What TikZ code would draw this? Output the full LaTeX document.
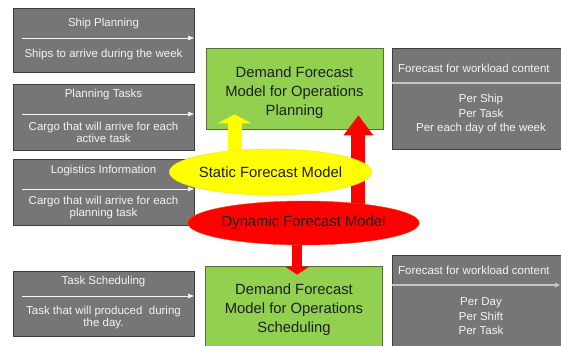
\documentclass[tikz,border=0pt]{standalone}
\usepackage{fontspec}
\setmainfont{Liberation Sans}
\usepackage{tikz}
\usetikzlibrary{arrows.meta,shapes.geometric,calc}
\definecolor{boxgray}{RGB}{118,118,118}
\definecolor{boxedge}{RGB}{62,62,62}
\definecolor{modelgreen}{RGB}{146,208,80}
\definecolor{greenedge}{RGB}{88,110,52}
\definecolor{textwhite}{RGB}{244,244,244}
\definecolor{seplight}{RGB}{196,196,196}
\definecolor{ellyellow}{RGB}{255,255,0}
\definecolor{ellred}{RGB}{255,0,0}
\pgfdeclarelayer{front}
\pgfsetlayers{main,front}

\tikzset{
infobox/.style={draw=boxedge,fill=boxgray,line width=0.8pt,minimum width=181pt,inner sep=0pt},
infotext/.style={text=textwhite,font=\fontsize{11.5}{11.5}\selectfont,align=center,inner sep=0pt},
sepline/.style={draw=textwhite,line width=0.7pt,-{Triangle[length=6pt,width=4.5pt]}},
outbox/.style={draw=boxedge,fill=boxgray,line width=0.8pt,minimum width=174pt,inner sep=0pt},
outtext/.style={text=textwhite,font=\fontsize{11.5}{14.5}\selectfont,align=center,inner sep=0pt},
outline/.style={draw=seplight,line width=1.2pt},
modelbox/.style={draw=greenedge,fill=modelgreen,line width=0.8pt,minimum width=177pt,inner sep=0pt},
modeltext/.style={text=black!88,font=\fontsize{14.8}{19}\selectfont,align=center,inner sep=0pt},
modelell/.style={ellipse,inner sep=0pt,text=black!88,font=\fontsize{14.8}{18}\selectfont},
staticarrow/.style={draw=ellyellow,line width=14pt,-{Triangle[length=9pt,width=34pt,line width=0pt]}},
dynarrow/.style={draw=ellred,line width=14pt,-{Triangle[length=20pt,width=30pt,line width=0pt]}},
downarrow/.style={draw=ellred,line width=10pt,-{Triangle[length=8pt,width=24pt,line width=0pt]}}
}

\begin{document}
\begin{tikzpicture}[x=1pt,y=-1pt]
\clip (0,0) rectangle (561,345);
\fill[white] (0,0) rectangle (561,345);

\node[infobox,minimum height=64pt] (ship) at (103.5,40) {};
\node[infotext] (shiptitle) at (103.5,24) {Ship Planning};
\draw[sepline] (22,38) -- (194,38);
\node[infotext] (shipbody) at (103.5,55) {Ships to arrive during the week};

\node[infobox,minimum height=66pt] (tasks) at (103.5,117) {};
\node[infotext] (taskstitle) at (103.5,95) {Planning Tasks};
\draw[sepline] (22,114) -- (194,114);
\node[infotext] (tasksbody) at (103.5,132.5) {Cargo that will arrive for each\\active task};

\node[infobox,minimum height=66pt] (logist) at (103.5,192) {};
\node[infotext] (logisttitle) at (103.5,171) {Logistics Information};
\draw[sepline] (22,189) -- (194,189);
\node[infotext] (logistbody) at (103.5,207.5) {Cargo that will arrive for each\\planning task};

\node[infobox,minimum height=65pt] (sched) at (103.5,303.5) {};
\node[infotext] (schedtitle) at (103.5,282) {Task Scheduling};
\draw[sepline] (22,296) -- (194,296);
\node[infotext] (schedbody) at (103.5,317.5) {Task that will produced~ during\\the day.};

\node[modelbox,minimum height=81pt] (opplan) at (294.5,88.5) {};
\node[modeltext] (opplantext) at (294.5,92.5) {Demand Forecast\\Model for Operations\\Planning};
\node[modelbox,minimum height=84pt] (opsched) at (294,308) {};
\node[modeltext] (opschedtext) at (294,309.5) {Demand Forecast\\Model for Operations\\Scheduling};

\node[outbox,minimum height=101pt] (weekout) at (479,98.5) {};
\node[outtext,anchor=west] (weektitle) at (398,68) {Forecast for workload content};
\draw[outline] (392,83) -- (563,83);
\node[outtext] (weekbody) at (481,114.5) {Per Ship\\Per Task\\Per each day of the week};

\node[outbox,minimum height=95pt] (dayout) at (479,302.5) {};
\node[outtext,anchor=west] (daytitle) at (398,270) {Forecast for workload content};
\draw[outline,-{Triangle[length=5pt,width=5pt]}] (392,285) -- (560,285);
\node[outtext] (daybody) at (481,316.5) {Per Day\\Per Shift\\Per Task};

\begin{pgfonlayer}{front}
\node[modelell,draw=yellow!85!orange,fill=ellyellow,minimum width=149pt,minimum height=46pt] (static) at (270.5,172) {Static Forecast Model};
\node[modelell,draw=orange!60!red,fill=ellred,minimum width=187pt,minimum height=44pt] (dynamic) at (303.5,223) {Dynamic Forecast Model};
\end{pgfonlayer}

\coordinate (ytip) at ([xshift=29pt,yshift=15pt]opplan.south west);
\coordinate (rtip) at ([xshift=-25pt,yshift=14pt]opplan.south east);
\coordinate (dtip) at ([xshift=92pt,yshift=-9pt]opsched.north west);
\draw[staticarrow] (static.center -| ytip) -- (ytip);
\draw[dynarrow] (dynamic.center -| rtip) -- (rtip);
\draw[downarrow] (dynamic.center -| dtip) -- (dtip);
\end{tikzpicture}
\end{document}
